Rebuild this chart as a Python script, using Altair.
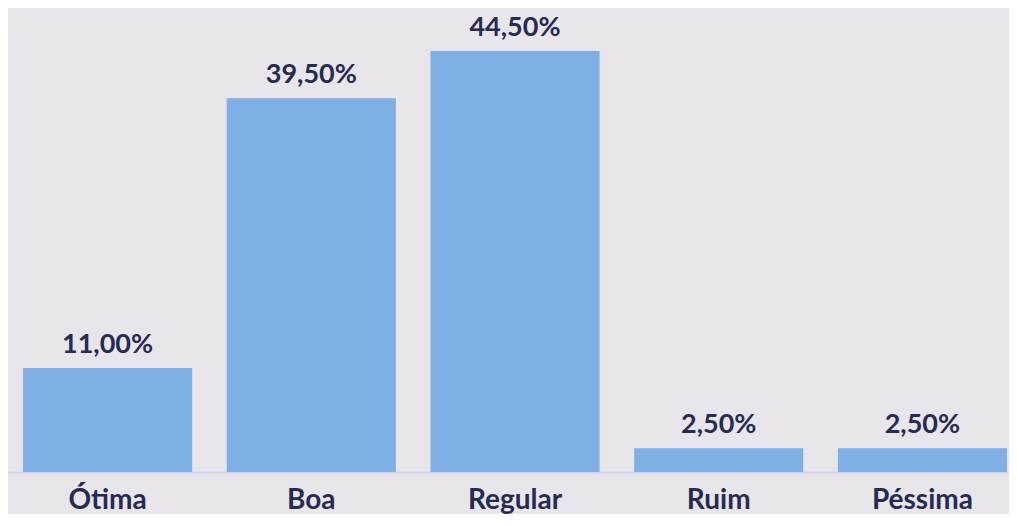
import altair as alt
import pandas as pd

categories = ["Ótima", "Boa", "Regular", "Ruim", "Péssima"]
values = [11.0, 39.5, 44.5, 2.5, 2.5]
labels = ["11,00%", "39,50%", "44,50%", "2,50%", "2,50%"]

df = pd.DataFrame({"cat": categories, "val": values, "lab": labels})

TEXT = "#252B55"
FONT = "Lato"

x = alt.X("cat:N", sort=categories,
          scale=alt.Scale(paddingInner=0.17, paddingOuter=0.042, align=0.88),
          axis=alt.Axis(title=None, labelAngle=0, ticks=False, grid=False,
                        domainColor="#CFD1EC", domainWidth=2,
                        labelFont=FONT, labelFontSize=28, labelFontWeight="bold",
                        labelColor=TEXT, labelPadding=14))
y = alt.Y("val:Q", scale=alt.Scale(domain=[0, 48.2], nice=False, zero=True),
          axis=None)

bars = alt.Chart(df).mark_bar(color="#7EB0E6").encode(x=x, y=y)
text = alt.Chart(df).mark_text(font=FONT, fontSize=27, fontWeight="bold",
                               color=TEXT, baseline="alphabetic", dy=-15).encode(
    x=x, y=y, text="lab:N")

chart = (bars + text).properties(
    width=1001, height=456,
    padding={"left": 0, "top": 6, "right": 0, "bottom": 0},
    background="#E8E6EA",
).configure_view(stroke=None)

chart.save("out.html", embed_options={"renderer": "svg", "actions": False})
